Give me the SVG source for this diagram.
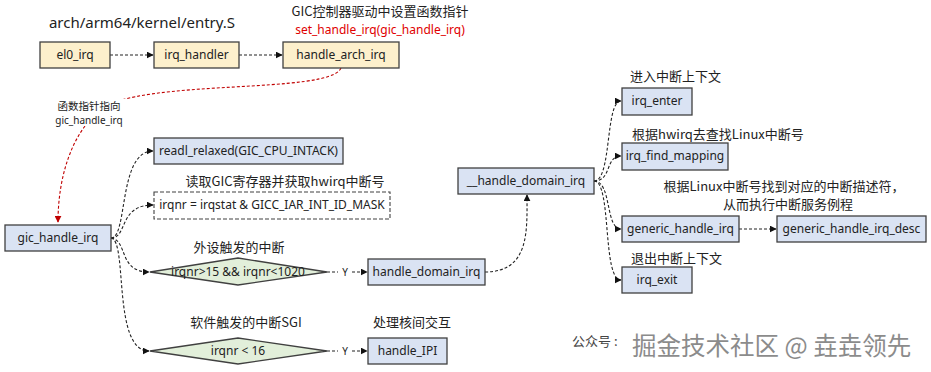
<svg xmlns="http://www.w3.org/2000/svg" width="931" height="372" viewBox="0 0 931 372">
<defs>
<marker id="ah" viewBox="0 0 10 10" refX="9" refY="5" markerWidth="7" markerHeight="7" markerUnits="userSpaceOnUse" orient="auto"><path d="M0,0 L10,5 L0,10 z" fill="#111"/></marker>
<marker id="ahr" viewBox="0 0 10 10" refX="9" refY="5" markerWidth="7" markerHeight="7" markerUnits="userSpaceOnUse" orient="auto"><path d="M0,0 L10,5 L0,10 z" fill="#c00000"/></marker>
<style>
.t{font-family:"Noto Sans","Noto Sans CJK SC",sans-serif;font-size:12px;fill:#222;text-anchor:middle}
.c{font-family:"Noto Sans CJK SC","Noto Sans",sans-serif;font-size:13px;fill:#222}
.box{stroke:#404040;stroke-width:1.3}
.y{fill:#fdf0cc}
.b{fill:#dae3f3}
.g{fill:#e2efda}
.e{fill:none;stroke:#222;stroke-width:1.1;stroke-dasharray:3,2;marker-end:url(#ah)}
</style>
</defs>
<rect width="931" height="372" fill="#fff"/>
<g id="connectors">
<path class="e" d="M110,55 L153,55"/>
<path class="e" d="M239,55 L282,55"/>
<path d="M341,68 C330,95 140,78 100,110 C70,135 58,180 58,222" fill="none" stroke="#c00000" stroke-width="1.1" stroke-dasharray="3,2" marker-end="url(#ahr)"/>
<path class="e" d="M111,238 C128,238 118,151 153,151"/>
<path class="e" d="M111,238 C128,238 118,205 153,205"/>
<path class="e" d="M111,238 C128,240 118,272 149,272"/>
<path class="e" d="M111,238 C128,240 112,351 149,351"/>
<path class="e" d="M327,272 L367,272"/>
<path class="e" d="M327,351 L367,351"/>
<path class="e" d="M485,272 C530,272 527,230 527,195"/>
<path class="e" d="M594,181 C612,181 605,101 621,101"/>
<path class="e" d="M594,181 C612,181 605,156 621,156"/>
<path class="e" d="M594,181 C612,181 605,229 621,229"/>
<path class="e" d="M594,181 C612,181 602,280 621,280"/>
<path class="e" d="M739,229 L776,229"/>
</g>
<g id="pointer_label">
<rect x="56" y="99" width="70" height="27" fill="#fff"/>
<text class="c" x="89" y="110" text-anchor="middle" style="font-size:10.5px">函数指针指向</text>
<text class="t" x="89" y="124" style="font-size:10px">gic_handle_irq</text>
</g>
<g id="y_labels">
<rect x="338" y="266" width="14" height="12" fill="#fff"/>
<text class="t" x="345" y="276" style="font-size:10px">Y</text>
<rect x="338" y="345" width="14" height="12" fill="#fff"/>
<text class="t" x="345" y="355" style="font-size:10px">Y</text>
</g>
<text class="t" x="142" y="28" style="font-size:15px">arch/arm64/kernel/entry.S</text>
<text class="c" x="380" y="16" text-anchor="middle" style="font-size:13px">GIC控制器驱动中设置函数指针</text>
<text class="t" x="380" y="34" style="fill:#e00000">set_handle_irq(gic_handle_irq)</text>
<g id="el0_irq"><rect class="box y" x="40" y="42" width="70" height="26"/><text class="t" x="75" y="59">el0_irq</text></g>
<g id="irq_handler"><rect class="box y" x="154" y="42" width="85" height="26"/><text class="t" x="196.5" y="59">irq_handler</text></g>
<g id="handle_arch_irq"><rect class="box y" x="283" y="42" width="116" height="26"/><text class="t" x="341" y="59">handle_arch_irq</text></g>
<g id="gic_handle_irq"><rect class="box b" x="5" y="225" width="106" height="26"/><text class="t" x="58" y="242">gic_handle_irq</text></g>
<g id="readl_relaxed"><rect class="box b" x="154" y="138" width="189" height="26"/><text class="t" x="248.5" y="155">readl_relaxed(GIC_CPU_INTACK)</text></g>
<g id="irqnr_assign"><text class="c" x="285" y="186" text-anchor="middle">读取GIC寄存器并获取hwirq中断号</text><rect x="154" y="192" width="236" height="27" fill="#fff" stroke="#404040" stroke-width="1.1" stroke-dasharray="4,2"/><text class="t" x="272" y="209">irqnr = irqstat &amp; GICC_IAR_INT_ID_MASK</text></g>
<g id="cond_spi"><text class="c" x="239" y="252" text-anchor="middle">外设触发的中断</text><polygon class="box g" points="150,272 238,258 327,272 238,285"/><text class="t" x="238" y="276">irqnr&gt;15 &amp;&amp; irqnr&lt;1020</text></g>
<g id="handle_domain_irq"><rect class="box b" x="368" y="259" width="117" height="26"/><text class="t" x="426.5" y="276">handle_domain_irq</text></g>
<g id="cond_sgi"><text class="c" x="246" y="327" text-anchor="middle">软件触发的中断SGI</text><polygon class="box g" points="150,351 238,338 327,351 238,364"/><text class="t" x="238" y="355">irqnr &lt; 16</text></g>
<g id="handle_IPI"><text class="c" x="412" y="327" text-anchor="middle">处理核间交互</text><rect class="box b" x="368" y="338" width="79" height="26"/><text class="t" x="407.5" y="355">handle_IPI</text></g>
<g id="__handle_domain_irq"><rect class="box b" x="458" y="168" width="136" height="26"/><text class="t" x="526" y="185">__handle_domain_irq</text></g>
<g id="irq_enter"><text class="c" x="630" y="81">进入中断上下文</text><rect class="box b" x="622" y="88" width="70" height="27"/><text class="t" x="657" y="105">irq_enter</text></g>
<g id="irq_find_mapping"><text class="c" x="632" y="139">根据hwirq去查找Linux中断号</text><rect class="box b" x="622" y="143" width="106" height="27"/><text class="t" x="675" y="160">irq_find_mapping</text></g>
<g id="generic_handle_irq"><text class="c" x="784" y="191" text-anchor="middle">根据Linux中断号找到对应的中断描述符，</text><text class="c" x="788" y="209" text-anchor="middle">从而执行中断服务例程</text><rect class="box b" x="622" y="216" width="117" height="26"/><text class="t" x="680.5" y="233">generic_handle_irq</text></g>
<g id="generic_handle_irq_desc"><rect class="box b" x="777" y="216" width="149" height="26"/><text class="t" x="851.5" y="233">generic_handle_irq_desc</text></g>
<g id="irq_exit"><text class="c" x="631" y="263">退出中断上下文</text><rect class="box b" x="622" y="267" width="70" height="26"/><text class="t" x="657" y="284">irq_exit</text></g>
<g id="watermark"><text class="c" x="572" y="346" style="font-size:13px;fill:#444">公众号 :</text><text class="c" x="632" y="355" style="font-size:24.5px;fill:#777;opacity:0.85">掘金技术社区 @ 垚垚领先</text></g>
</svg>
